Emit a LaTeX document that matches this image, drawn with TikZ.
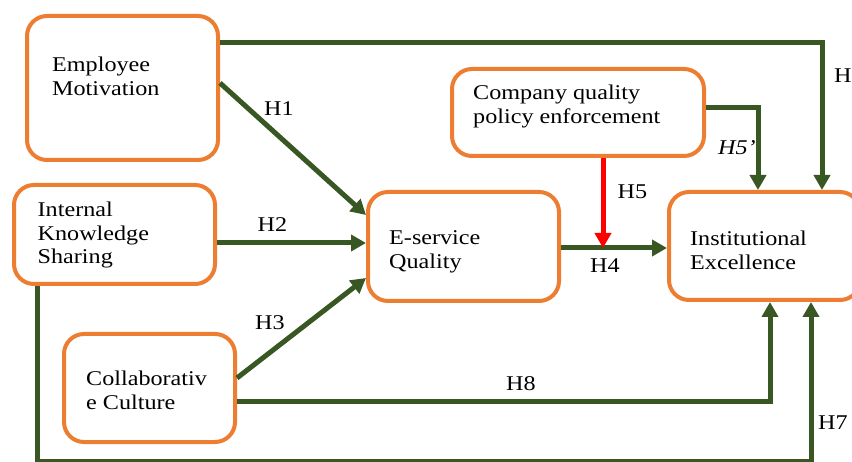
\documentclass[tikz,border=0pt]{standalone}
\usepackage{fontspec}
\setmainfont{Liberation Serif}[FakeStretch=1.15]
\usetikzlibrary{arrows.meta}
\definecolor{boxorange}{HTML}{ED7D31}
\definecolor{arrgreen}{HTML}{385723}
\definecolor{arrred}{HTML}{FF0000}
\begin{document}
\begin{tikzpicture}[x=1pt,y=-1pt,
  box/.style={draw=boxorange,line width=4pt,rounded corners=20pt,fill=white,inner sep=0pt},
  lbl/.style={font=\fontsize{21}{23.5}\selectfont,align=left,anchor=base west,inner sep=0pt},
  hyp/.style={font=\fontsize{21}{23.5}\selectfont,inner sep=0pt},
  arr/.style={draw=arrgreen,line width=5pt,-{Triangle[width=16pt,length=15pt]}},
  redarr/.style={draw=arrred,line width=5pt,-{Triangle[width=16pt,length=15pt]}}]
\useasboundingbox[fill=white] (0,0) rectangle (852,462);
% boxes
\node[box,minimum width=191pt,minimum height=144pt] (em) at (122.5,88) {};
\node[box,minimum width=201pt,minimum height=99pt] (iks) at (114.5,234.5) {};
\node[box,minimum width=171pt,minimum height=108pt] (cc) at (149.5,388) {};
\node[box,minimum width=191pt,minimum height=109pt] (esq) at (463.5,246.5) {};
\node[box,minimum width=252pt,minimum height=87pt] (cqp) at (578,112.5) {};
\node[box,minimum width=191pt,minimum height=108pt] (ie) at (764.5,246) {};
% texts (anchor = baseline of last line)
\node[lbl] (emt) at (52,95.5) {Employee\\Motivation};
\node[lbl] (ikst) at (37.5,264) {Internal\\Knowledge\\Sharing};
\node[lbl] (cct) at (86,409.5) {Collaborativ\\e Culture};
\node[lbl] (esqt) at (389,268.5) {E-service\\Quality};
\node[lbl] (cqpt) at (473,123.5) {Company quality\\policy enforcement};
\node[lbl] (iet) at (690,269.5) {Institutional\\Excellence};
% helper levels
\coordinate (y43) at (0,43);
\coordinate (y83) at (0,83);
\coordinate (y215) at (0,215);
\coordinate (y243) at (0,243);
\coordinate (y248) at (0,248);
\coordinate (y278) at (0,278);
\coordinate (y378) at (0,378);
\coordinate (y402) at (0,402);
\coordinate (y461) at (0,461);
\coordinate (y108) at (0,108);
\coordinate (x37) at (37,0);
\coordinate (x603) at (603,0);
\coordinate (x758) at (758,0);
\coordinate (x770) at (770,0);
\coordinate (x811) at (811,0);
\coordinate (x822) at (822,0);
\coordinate (m) at (603,248);
% connectors
\draw[arr] (em.east |- y43) -| (ie.north -| x822);
\draw[arr] (em.east |- y83) -- (esq.west |- y215);
\draw[arr] (iks.east |- y243) -- (esq.west |- y243);
\draw[arr] (cc.east |- y378) -- (esq.west |- y278);
\draw[arr] (esq.east |- y248) -- (ie.west |- y248);
\draw[arr] (cqp.east |- y108) -| (ie.north -| x758);
\draw[arr] (cc.east |- y402) -| (ie.south -| x770);
\draw[arr] (iks.south -| x37) |- (x811 |- y461) -- (ie.south -| x811);
\draw[redarr] (cqp.south -| x603) -- (m);
% hypothesis labels
\node[hyp] (h1) at (279,109) {H1};
\node[hyp] (h2) at (272.5,224.5) {H2};
\node[hyp] (h3) at (270,323) {H3};
\node[hyp] (h4) at (605,265.5) {H4};
\node[hyp] (h5) at (632.5,192) {H5};
\node[hyp,anchor=base west] (h5p) at (718,155) {\itshape H5’};
\node[hyp,anchor=base west] (h6) at (834,83) {H6};
\node[hyp,anchor=west] (h7) at (818,423) {H7};
\node[hyp] (h8) at (521,384) {H8};
\end{tikzpicture}
\end{document}
